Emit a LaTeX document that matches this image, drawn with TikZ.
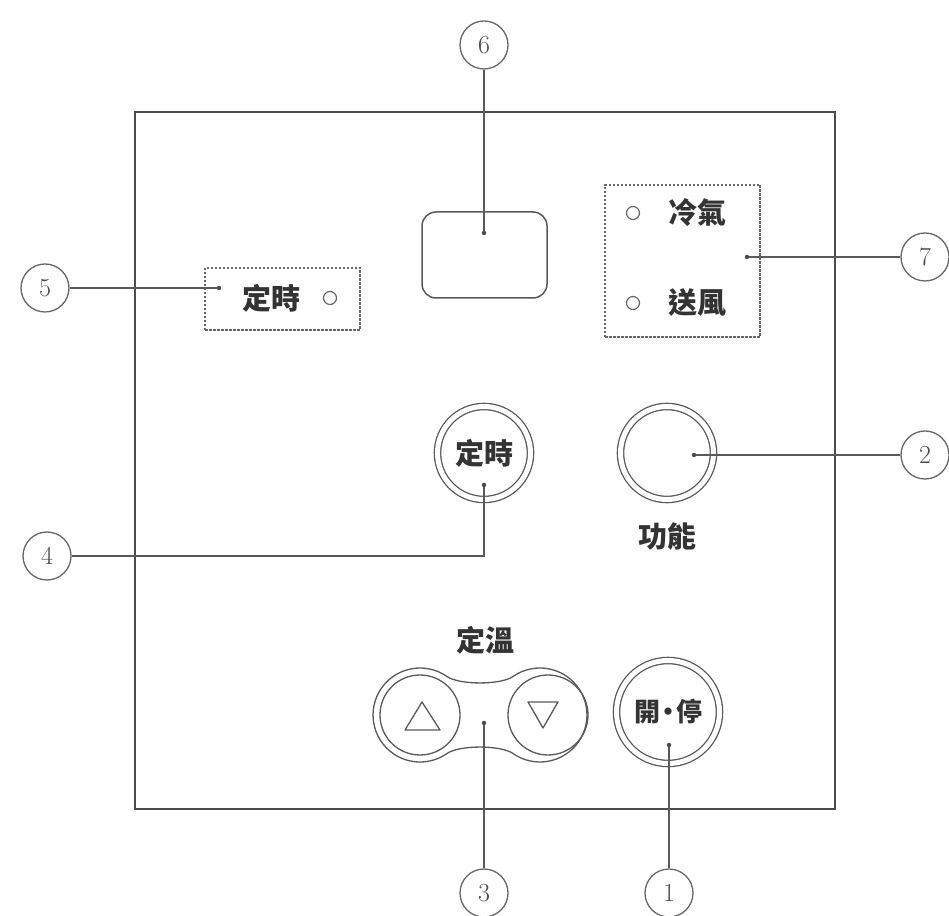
\documentclass[tikz,border=0pt]{standalone}
\usepackage{fontspec}
\newfontfamily\cjk{Noto Sans CJK TC}
\begin{document}
\begin{tikzpicture}[x=1pt,y=1pt,
  ln/.style={draw=black!65, line width=1.3pt},
  num/.style={circle, draw=black!60, line width=1.3pt, minimum size=48pt, inner sep=0pt, font=\fontsize{26}{26}\selectfont, text=black!70},
  dashbox/.style={draw=black!60, line width=1.4pt, dash pattern=on 2.5pt off 1.5pt, inner sep=0pt},
  btn/.style={circle, draw=black!65, double=white, double distance=5pt, line width=1.3pt, inner sep=0pt},
  lbl/.style={font=\cjk\bfseries\fontsize{29}{29}\selectfont, text=black!80},
  led/.style={circle, draw=black!60, line width=1.2pt, minimum size=13pt, inner sep=0pt},
  dot/.style={circle, fill=black!70, inner sep=0pt, minimum size=4.5pt}
]
\useasboundingbox (0,0) rectangle (949,915);

% panel
\node[draw=black!70, line width=2pt, minimum width=700pt, minimum height=697pt, inner sep=0pt] (panel) at (485,454.5) {};

% number circles
\node[num] (n6) at (484,870) {6};
\node[num] (n5) at (45,627) {5};
\node[num] (n7) at (925,658) {7};
\node[num] (n2) at (925,460) {2};
\node[num] (n4) at (47,359) {4};
\node[num] (n3) at (484,22) {3};
\node[num] (n1) at (669,22) {1};

% display
\node[draw=black!65, line width=1.5pt, rounded corners=14pt, minimum width=125pt, minimum height=86pt, inner sep=0pt] (disp) at (484.5,660) {};
\node[dot] (d6) at (484,682) {};
\draw[ln] (n6) -- (d6);

% timer indicator box
\node[dashbox, minimum width=155pt, minimum height=62pt] (b5) at (282.5,616) {};
\node[lbl] (t5) at (271,617) {定時};
\node[led] (l5) at (330,617) {};
\node[dot] (d5) at (219,627) {};
\draw[ln] (n5) -- (d5);

% mode indicator box
\node[dashbox, minimum width=155pt, minimum height=152pt] (b7) at (682.5,654) {};
\node[led] (l7a) at (633,702) {};
\node[lbl] (t7a) at (697,702) {冷氣};
\node[led] (l7b) at (633,612) {};
\node[lbl] (t7b) at (697,612) {送風};
\node[dot] (d7) at (747,658) {};
\draw[ln] (d7) -- (n7);

% timer button
\node[btn, lbl, minimum size=93pt] (bt) at (484,462) {定時};
\node[dot] (dt) at (484,430) {};
\draw[ln] (dt) |- (n4);

% function button
\node[btn, minimum size=93pt] (bf) at (667,462) {};
\node[lbl] (tf) at (667,378) {功能};
\node[dot] (df) at (694,460) {};
\draw[ln] (df) -- (n2);

% temperature buttons
\node[lbl] (tt) at (485,275) {定溫};
\draw[draw=black!65, line width=1.3pt]
  (513,238.5) .. controls (500.7,229.9) and (459.3,229.9) .. (447,238.5)
  arc[start angle=55, end angle=305, radius=47pt]
  .. controls (459.3,170.1) and (500.7,170.1) .. (513,161.5)
  arc[start angle=235, end angle=485, radius=47pt] -- cycle;
\node[circle, draw=black!65, line width=1.3pt, minimum size=80pt, inner sep=0pt] (bup) at (420,200) {};
\node[circle, draw=black!65, line width=1.3pt, minimum size=80pt, inner sep=0pt] (bdn) at (548,200) {};
\draw[draw=black!65, line width=1.3pt, line join=round] (422,213) -- (405,185) -- (440,185) -- cycle;
\draw[draw=black!65, line width=1.3pt, line join=round] (528,213) -- (558,213) -- (543,187) -- cycle;
\node[dot] (dp) at (484,192) {};
\draw[ln] (dp) -- (n3);

% on/off button
\node[btn, minimum size=103pt, font=\cjk\bfseries\fontsize{26}{26}\selectfont, text=black!80] (bo) at (668,203) {開\hspace{-5pt}•\hspace{-5pt}停};
\node[dot] (dO) at (669,170) {};
\draw[ln] (dO) -- (n1);
\end{tikzpicture}
\end{document}
